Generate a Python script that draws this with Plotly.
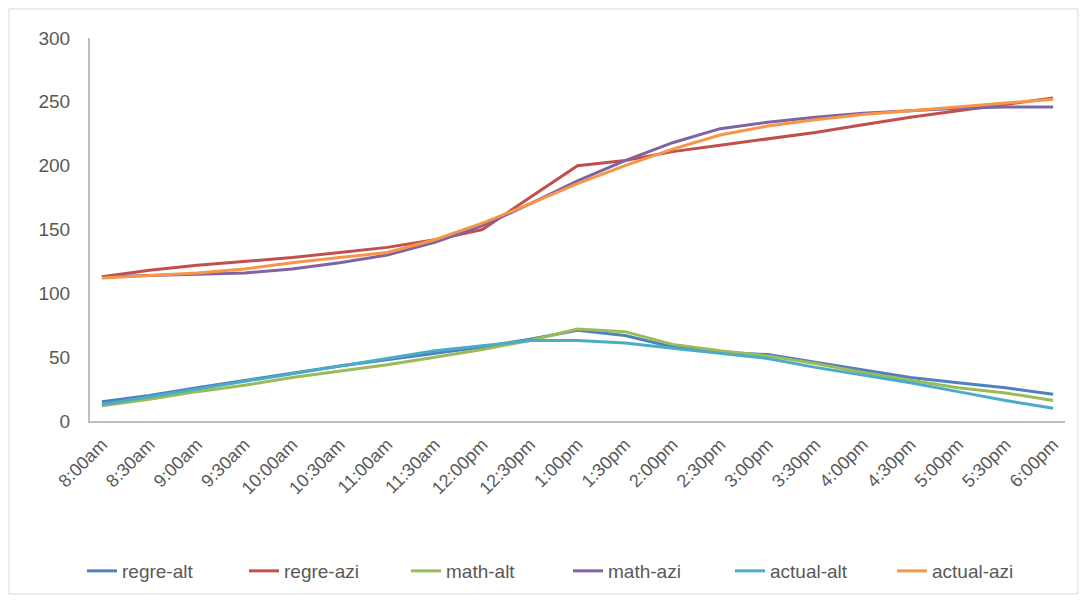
import plotly.graph_objects as go

times = ["8:00am", "8:30am", "9:00am", "9:30am", "10:00am", "10:30am", "11:00am",
         "11:30am", "12:00pm", "12:30pm", "1:00pm", "1:30pm", "2:00pm", "2:30pm",
         "3:00pm", "3:30pm", "4:00pm", "4:30pm", "5:00pm", "5:30pm", "6:00pm"]

regre_alt = [15, 20, 26, 32, 37.5, 43, 48, 53, 58, 64, 71, 67, 58, 54, 52, 46, 40, 34, 30, 26, 21]
regre_azi = [113, 118, 122, 125, 128, 132, 136, 142, 150, 175, 200, 204, 211, 216, 221, 226, 232, 238, 243, 248, 253]
math_alt = [12, 17, 23, 28, 34, 39, 44, 50, 56, 63, 72, 70, 60, 55, 51, 45, 38, 32, 26, 22, 16]
math_azi = [113, 114, 115, 116, 119, 124, 130, 140, 153, 170, 188, 204, 218, 229, 234, 238, 241, 243, 245, 246, 246]
actual_alt = [13, 19, 25, 31, 37, 43, 49, 55, 59, 63, 63, 61, 57, 53, 49, 42, 36, 30, 23, 16, 10]
actual_azi = [112, 114, 116, 119, 124, 128, 132, 142, 155, 170, 186, 200, 213, 224, 231, 236, 240, 243, 246, 249, 252]

series = [
    ("regre-alt", regre_alt, "#4F81BD"),
    ("regre-azi", regre_azi, "#C0504D"),
    ("math-alt", math_alt, "#9BBB59"),
    ("math-azi", math_azi, "#8064A2"),
    ("actual-alt", actual_alt, "#4BACC6"),
    ("actual-azi", actual_azi, "#F79646"),
]

fig = go.Figure()
for name, vals, col in series:
    fig.add_trace(go.Scatter(x=times, y=vals, name=name, mode="lines",
                             line=dict(color=col, width=3)))

W, H = 1086, 602
L, R, T, B = 90, 21, 38, 181
pw, ph = W - L - R, H - T - B

def px_x(p):
    return (p - L) / pw

def px_y(p):
    return (H - B - p) / ph

font_fam = "Liberation Sans, Arial, sans-serif"
fig.update_layout(
    width=W, height=H,
    margin=dict(l=L, r=R, t=T, b=B),
    paper_bgcolor="white", plot_bgcolor="white",
    font=dict(family=font_fam, size=18, color="#595959"),
    showlegend=True,
    legend=dict(orientation="h", x=px_x(82), xanchor="left",
                y=px_y(571), yanchor="middle",
                entrywidth=117, entrywidthmode="pixels",
                font=dict(size=19, color="#595959"),
                bgcolor="rgba(0,0,0,0)"),
    xaxis=dict(type="category", range=[-0.25, 20.25], tickangle=-45,
               showline=True, linecolor="#BFBFBF", linewidth=2,
               showgrid=False, zeroline=False, ticks="",
               ticklabelstandoff=4, tickfont=dict(size=18)),
    yaxis=dict(range=[0, 300], tickvals=[0, 50, 100, 150, 200, 250, 300],
               showline=True, linecolor="#BFBFBF", linewidth=2,
               showgrid=False, zeroline=False, ticks="",
               ticklabelstandoff=14, tickfont=dict(size=19)),
    shapes=[dict(type="rect", xref="paper", yref="paper",
                 x0=px_x(9), x1=px_x(1078), y0=px_y(594), y1=px_y(9),
                 line=dict(color="#D9D9D9", width=1), fillcolor="rgba(0,0,0,0)",
                 layer="below")],
)

fig.write_html("out.html")
